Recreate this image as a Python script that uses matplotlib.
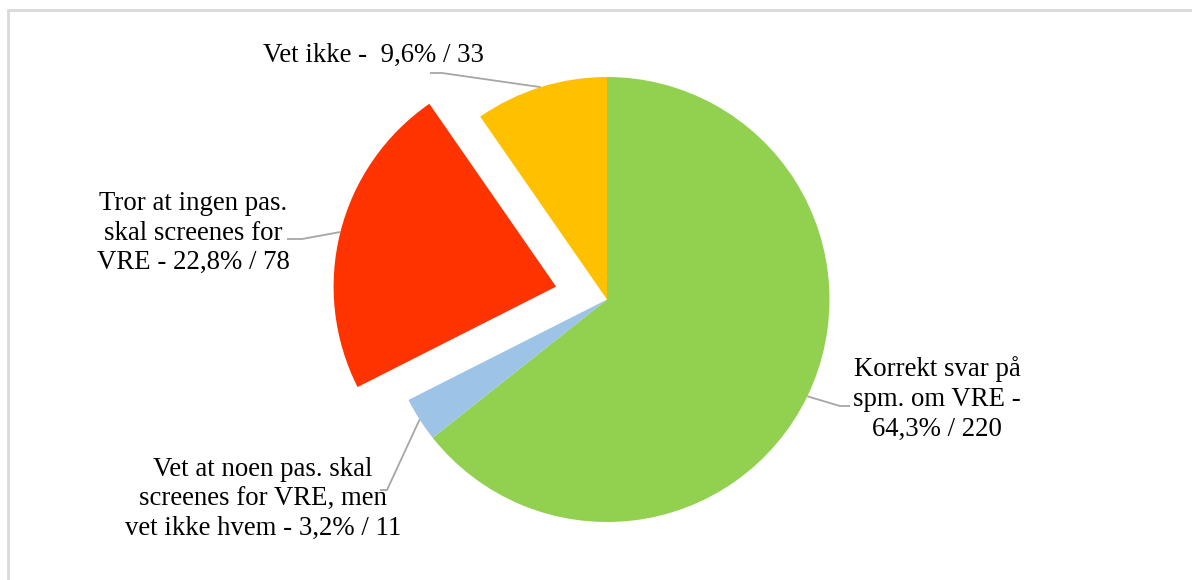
import numpy as np
import matplotlib.pyplot as plt
from matplotlib.patches import Rectangle

plt.rcParams['font.family'] = ['Liberation Serif', 'DejaVu Serif']

# answers to the VRE screening question
names = ['Korrekt svar på\nspm. om VRE -\n',
         'Vet at noen pas. skal\nscreenes for VRE, men\nvet ikke hvem - ',
         'Tror at ingen pas.\nskal screenes for\nVRE - ',
         'Vet ikke -  ']
counts = [220, 11, 78, 33]
colors = ['#92D050', '#9DC3E6', '#FF3300', '#FFC000']
explode = [0, 0, 0.236, 0]

# label centres and leader elbows, in pixels of the 1192x580 canvas
label_xy = [(937, 399), (263, 499), (193, 233), (373, 55)]
elbows = [[(850, 406), (840, 406)],
          [(380, 490), (387, 490)],
          [(287, 239), (302, 239)],
          [(430, 73), (442, 73)]]

W, H = 1192, 580
cx, cy, r = 607, 299.5, 222.5


def to_data(px, py):
    return (px - cx) / r, (cy - py) / r


fig = plt.figure(figsize=(W / 100, H / 100), dpi=100)
ax = fig.add_axes([0, 0, 1, 1])

# chart frame, running off the right and bottom edges
fig.patches.append(Rectangle((8, -20), W + 20, H - 10 + 20, transform=None,
                             fill=False, edgecolor='#D9D9D9', linewidth=2))

wedges, _ = ax.pie(counts, colors=colors, explode=explode, startangle=90,
                   counterclock=False, radius=1, center=(0, 0),
                   wedgeprops=dict(linewidth=0))

total = sum(counts)
for w, name, n, xy, elb, ex in zip(wedges, names, counts, label_xy, elbows, explode):
    pct = f'{n / total * 100:.1f}'.replace('.', ',')
    text = f'{name}{pct}% / {n}'
    tx, ty = to_data(*xy)
    ax.text(tx, ty, text, ha='center', va='center', fontsize=19.3,
            linespacing=1.24, color='black')

    # leader line ends on the arc at the slice's mid-angle
    mid = np.deg2rad((w.theta1 + w.theta2) / 2)
    ox, oy = ex * np.cos(mid), ex * np.sin(mid)
    end = (ox + np.cos(mid), oy + np.sin(mid))
    pts = [to_data(*p) for p in elb] + [end]
    xs, ys = zip(*pts)
    ax.plot(xs, ys, color='#A6A6A6', linewidth=1.3, solid_capstyle='butt')

ax.set_xlim(-cx / r, (W - cx) / r)
ax.set_ylim(-(H - cy) / r, cy / r)
ax.set_aspect('equal')
ax.axis('off')

fig.savefig('out.png', dpi=100)
